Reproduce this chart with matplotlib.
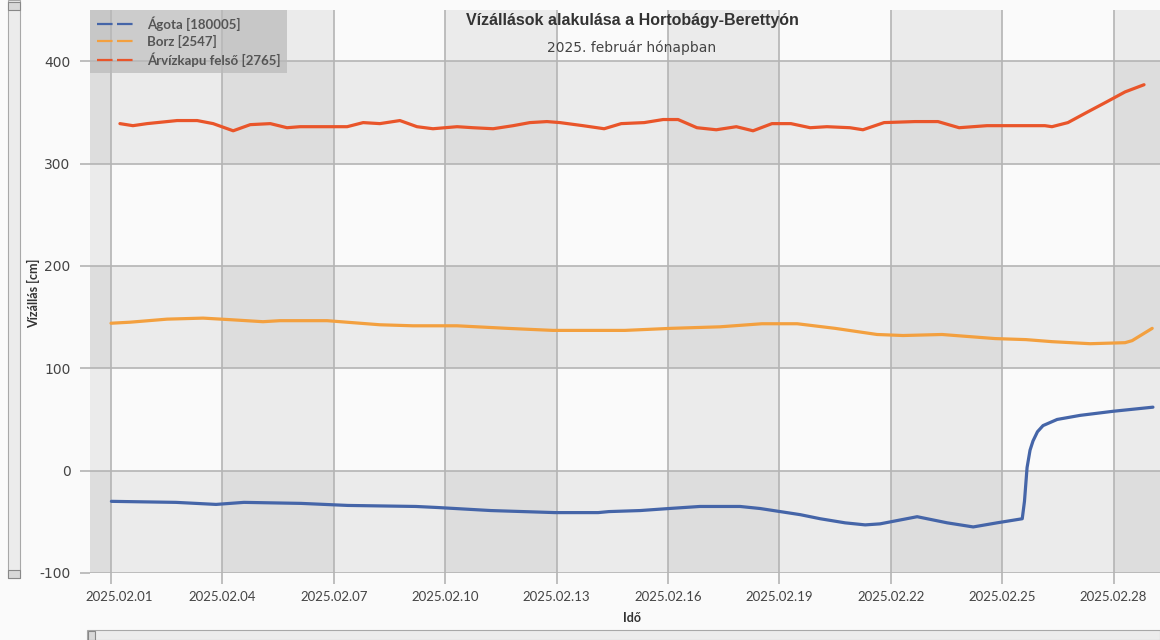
import matplotlib
matplotlib.use("Agg")
import matplotlib.pyplot as plt
import matplotlib.transforms as mtransforms
from matplotlib.lines import Line2D
from matplotlib.patches import Rectangle
import pandas as pd

plt.rcParams["axes.unicode_minus"] = False

# ---------------- data ----------------
base_date = pd.Timestamp("2025-02-01")

series_names = ["Ágota [180005]", "Borz [2547]", "Árvízkapu felső [2765]"]
series_colors = ["#4565a8", "#f3a03f", "#e9552a"]

# day offsets from 2025-02-01 00:00 and water levels (cm)
agota_days = [0.01, 1.75, 2.83, 3.58, 5.12, 6.38, 8.21, 8.78, 10.23, 11.96, 13.12, 13.41,
              14.25, 15.03, 15.86, 16.94, 17.48, 18.02, 18.56, 19.10, 19.77, 20.31, 20.71,
              21.71, 22.52, 23.22, 23.86, 24.54, 24.60, 24.67, 24.75, 24.83, 24.95, 25.10,
              25.48, 26.10, 26.99, 28.06]
agota_vals = [-30, -31, -33, -31, -32, -34, -35, -36, -39, -41, -41, -40,
              -39, -37, -35, -35, -37, -40, -43, -47, -51, -53, -52,
              -45, -51, -55, -51, -47, -30, 3, 20, 29, 38, 44,
              50, 54, 58, 62]

borz_days = [0.00, 0.51, 1.51, 2.48, 3.20, 4.09, 4.55, 5.82, 7.24, 8.13, 9.32, 10.67,
             11.90, 13.84, 15.08, 16.40, 17.53, 18.48, 19.50, 20.63, 21.33, 22.38, 23.81,
             24.64, 25.34, 26.37, 27.31, 27.50, 28.04]
borz_vals = [144, 145, 148, 149, 147.5, 145.5, 146.5, 146.5, 142.5, 141.5, 141.5, 139,
             137, 137, 139, 140.5, 143.5, 143.5, 139, 133, 132, 133, 129,
             128, 126, 124, 125, 127, 139]

arviz_days = [0.24, 0.59, 0.97, 1.78, 2.32, 2.75, 3.29, 3.75, 4.29, 4.74, 5.09, 6.36,
              6.79, 7.24, 7.78, 8.24, 8.67, 9.32, 9.75, 10.29, 10.83, 11.28, 11.74,
              12.09, 12.71, 13.28, 13.74, 14.36, 14.87, 15.27, 15.78, 16.30, 16.84,
              17.29, 17.80, 18.31, 18.83, 19.28, 19.90, 20.25, 20.82, 21.65, 22.27,
              22.84, 23.59, 25.15, 25.34, 25.77, 26.28, 26.80, 27.31, 27.82]
arviz_vals = [339, 337, 339, 342, 342, 339, 332, 338, 339, 335, 336, 336,
              340, 339, 342, 336, 334, 336, 335, 334, 337, 340, 341,
              340, 337, 334, 339, 340, 343, 343, 335, 333, 336,
              332, 339, 339, 335, 336, 335, 333, 340, 341, 341,
              335, 337, 337, 336, 340, 350, 360, 370, 377]

x_tick_labels = ["2025.02.01", "2025.02.04", "2025.02.07", "2025.02.10", "2025.02.13",
                 "2025.02.16", "2025.02.19", "2025.02.22", "2025.02.25", "2025.02.28"]
y_ticks = [-100, 0, 100, 200, 300, 400]

title = "Vízállások alakulása a Hortobágy-Berettyón"
subtitle = "2025. február hónapban"
y_label = "Vízállás [cm]"
x_label = "Idő"

NARROW = ["Lato", "DejaVu Sans"]

# ---------------- figure ----------------
W, H = 1160, 640
fig = plt.figure(figsize=(W / 100, H / 100), dpi=100, facecolor="#fafafa")
ax = fig.add_axes([90 / W, 1 - 573 / H, 1070 / W, 563 / H])
ax.set_facecolor("#fafafa")

def to_dates(days):
    return [base_date + pd.Timedelta(days=d) for d in days]

series = [(agota_days, agota_vals), (borz_days, borz_vals), (arviz_days, arviz_vals)]
for (d, v), name, col in zip(series, series_names, series_colors):
    ax.plot(to_dates(d), v, color=col, lw=2.3, label=name, zorder=3,
            solid_joinstyle="round", solid_capstyle="round")

xmin = base_date + pd.Timedelta(days=-0.566)
xmax = base_date + pd.Timedelta(days=28.25)
ax.set_xlim(xmin, xmax)
ax.set_ylim(-100, 450)

tick_dates = [pd.Timestamp(s.replace(".", "-")) for s in x_tick_labels]
ax.set_xticks(tick_dates)
ax.set_xticklabels(x_tick_labels)
ax.set_yticks(y_ticks)

# alternating bands
band_alpha = 0.06
edges_x = [xmin] + tick_dates + [xmax]
for i in range(len(edges_x) - 1):
    if i % 2 == 0:
        ax.axvspan(edges_x[i], edges_x[i + 1], color="black", alpha=band_alpha, lw=0, zorder=0.1)
edges_y = y_ticks + [450]
for i in range(len(edges_y) - 1):
    if i % 2 == 0:
        ax.axhspan(edges_y[i], edges_y[i + 1], color="black", alpha=band_alpha, lw=0, zorder=0.1)

ax.grid(True, color="#b4b4b4", lw=1.2, zorder=0.5)
ax.set_axisbelow(True)
for s in ax.spines.values():
    s.set_visible(False)

ax.tick_params(axis="y", length=7, width=1.2, color="#b4b4b4", pad=7,
               labelsize=10, labelcolor="#444444")
ax.tick_params(axis="x", length=8, width=1.2, color="#b4b4b4", pad=5,
               labelsize=9.5, labelcolor="#444444")
for lab in ax.get_xticklabels():
    lab.set_family(NARROW)
# first label nudged right (as in the reference, to stay inside the area)
first = ax.get_xticklabels()[0]
first.set_transform(first.get_transform() +
                    mtransforms.ScaledTranslation(8 / 100, 0, fig.dpi_scale_trans))

ax.set_ylabel(y_label, fontsize=9, fontweight="bold", color="#333333", family=NARROW)
ax.yaxis.set_label_coords(-50 / 1070, (573 - 293) / 563)
ax.set_xlabel(x_label, fontsize=9, fontweight="bold", color="#333333", family=NARROW)
ax.xaxis.set_label_coords((632 - 90) / 1070, -(612 - 573) / 563)

# titles
fig.text(632 / W, 1 - 20 / H, title, ha="center", va="center", fontsize=11.5,
         fontweight="bold", color="#333333", family=["Liberation Sans", "DejaVu Sans"])
fig.text(632 / W, 1 - 48 / H, subtitle, ha="center", va="center", fontsize=10,
         color="#444444", family=["DejaVu Sans"])

# legend with dashed handles
handles = [Line2D([0], [0], color=c, lw=1.6, dashes=(7, 2)) for c in series_colors]
leg = ax.legend(handles, series_names, loc="upper left", bbox_to_anchor=(0, 1),
                borderaxespad=0, fancybox=False, facecolor="#b9b9b9", framealpha=0.7,
                edgecolor="none", handlelength=3.0, handletextpad=0.8, labelspacing=0.3,
                borderpad=0.5, prop={"family": NARROW, "weight": "bold", "size": 9.5})
for t in leg.get_texts():
    t.set_color("#555555")
leg.set_zorder(5)

# UI scrollbars (decoration)
fig.patches.append(Rectangle((8 / W, 1 - 578 / H), 12 / W, 578 / H, transform=fig.transFigure,
                             facecolor="#ececec", edgecolor="#a8a8a8", lw=0.8))
fig.patches.append(Rectangle((8 / W, 1 - 578 / H), 12 / W, 8 / H, transform=fig.transFigure,
                             facecolor="#d8d8d8", edgecolor="#888888", lw=0.8))
fig.patches.append(Rectangle((8 / W, 1 - 10 / H), 12 / W, 8 / H, transform=fig.transFigure,
                             facecolor="#d8d8d8", edgecolor="#888888", lw=0.8))
fig.patches.append(Rectangle((87 / W, 0), 1073 / W, 10 / H, transform=fig.transFigure,
                             facecolor="#ececec", edgecolor="#a8a8a8", lw=0.8))
fig.patches.append(Rectangle((88 / W, 0), 7 / W, 9 / H, transform=fig.transFigure,
                             facecolor="#d8d8d8", edgecolor="#888888", lw=0.8))

fig.savefig("out.png", dpi=100, facecolor=fig.get_facecolor())
